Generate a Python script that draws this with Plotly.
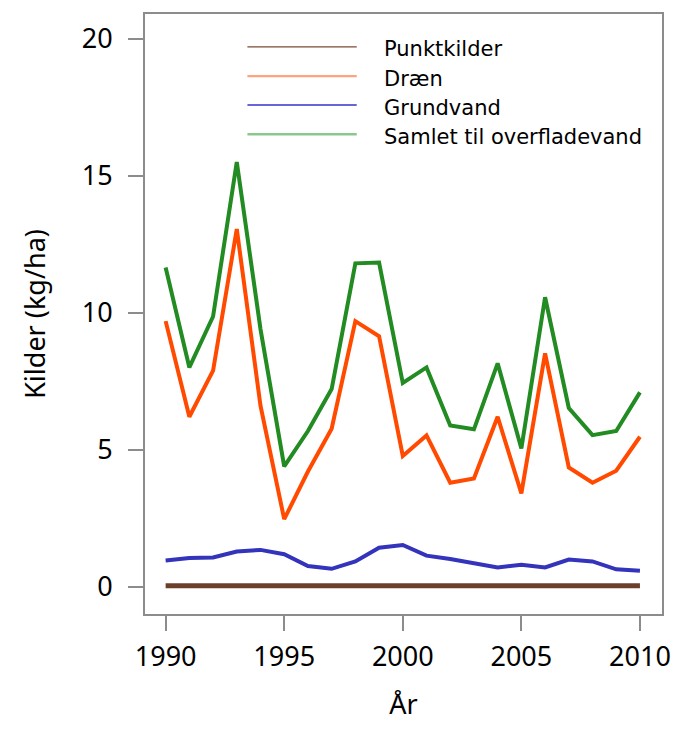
import plotly.graph_objects as go

years = list(range(1990, 2011))
punktkilder = [0.03] * 21
draen = [9.69, 6.2, 7.88, 13.05, 6.6, 2.46, 4.2, 5.76, 9.69, 9.14, 4.77,
         5.52, 3.79, 3.95, 6.2, 3.4, 8.51, 4.35, 3.79, 4.23, 5.47]
grundvand = [0.95, 1.04, 1.06, 1.28, 1.34, 1.18, 0.75, 0.65, 0.92, 1.42, 1.52,
             1.13, 1.01, 0.86, 0.70, 0.80, 0.70, 0.99, 0.92, 0.63, 0.58]
samlet = [11.65, 8.0, 9.86, 15.5, 9.4, 4.39, 5.68, 7.21, 11.8, 11.83, 7.43,
          8.0, 5.88, 5.74, 8.15, 5.04, 10.56, 6.52, 5.53, 5.68, 7.09]

series_names = ["Punktkilder", "Dræn", "Grundvand", "Samlet til overfladevand"]
series_vals = [punktkilder, draen, grundvand, samlet]
colors = ["#6B3F2A", "#FF4A00", "#3333BB", "#228B22"]
legend_colors = ["#7A4A35", "#FFA27E", "#3333CC", "#8CC88C"]
legend_widths = [1.2, 2.2, 1.5, 2.4]
widths = [5, 4, 4, 4]

font = "Noto Sans, Open Sans, DejaVu Sans, sans-serif"
legend_font = "DejaVu Sans, sans-serif"

fig = go.Figure()
for name, vals, c, w in zip(series_names, series_vals, colors, widths):
    fig.add_trace(go.Scatter(x=years, y=vals, mode="lines", name=name,
                             line=dict(color=c, width=w), showlegend=False))

# page is offset by the default body margin (8px); keep figure inside the window
OFF = 8
W, H = 665, 714
# plot area in page pixels
PL, PR, PT, PB = 145, 670, 14, 620
ML = PL - OFF
MR = W - (PR - OFF)
MT = PT - OFF
MB = H - (PB - OFF)
pw, ph = PR - PL, PB - PT

def px(x):
    return (x - PL) / pw
def py(y):
    return (PB - y) / ph

rows = [47.3, 76.7, 106, 135.5]
for name, c, lw, r in zip(series_names, legend_colors, legend_widths, rows):
    fig.add_shape(type="line", xref="paper", yref="paper",
                  x0=px(249), x1=px(360), y0=py(r), y1=py(r),
                  line=dict(color=c, width=lw))
    fig.add_annotation(xref="paper", yref="paper", x=px(386), y=py(r + 2.5),
                       text=name, showarrow=False, xanchor="left", yanchor="middle",
                       font=dict(size=21, color="black", family=legend_font))

axis_common = dict(showline=True, linecolor="#8C8C8C", linewidth=2, mirror=True,
                   ticks="outside", ticklen=15, tickwidth=2, tickcolor="#8C8C8C",
                   showgrid=False, zeroline=False, ticklabeloverflow="allow",
                   tickfont=dict(size=27, color="black", family=font))

fig.update_xaxes(range=[1989.13, 2010.93], tickvals=[1990, 1995, 2000, 2005, 2010],
                 ticklabelstandoff=3,
                 title=dict(text="År", font=dict(size=27, color="black", family=font), standoff=26),
                 **axis_common)
fig.update_yaxes(range=[-1.0, 20.9], tickvals=[0, 5, 10, 15, 20],
                 ticklabelstandoff=10,
                 title=dict(text="Kilder (kg/ha)", font=dict(size=27, color="black", family=font), standoff=28),
                 **axis_common)

fig.update_layout(width=W, height=H, margin=dict(l=ML, r=MR, t=MT, b=MB),
                  plot_bgcolor="white", paper_bgcolor="white",
                  font=dict(family=font, color="black"))

fig.write_html("out.html", config={"displayModeBar": False})
